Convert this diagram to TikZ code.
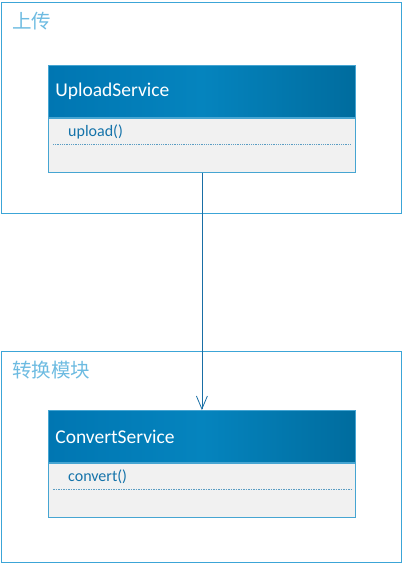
\documentclass[tikz,border=0pt]{standalone}
\usepackage{fontspec}
\setmainfont{Carlito}
\newfontfamily\cjk{Noto Sans CJK SC}
\usepackage{tikz}
\usetikzlibrary{positioning,arrows.meta,calc}
\usepackage{xcolor}
\definecolor{pkgline}{RGB}{60,165,215}
\definecolor{hdleft}{RGB}{0,118,178}
\definecolor{hdmid}{RGB}{5,132,190}
\definecolor{hdright}{RGB}{0,108,158}
\definecolor{boxline}{RGB}{70,165,210}
\definecolor{bodyfill}{RGB}{241,241,241}
\definecolor{optext}{RGB}{20,115,170}
\definecolor{depline}{RGB}{25,110,165}

\begin{document}
\begin{tikzpicture}[
  x=1pt, y=-1pt,
  pkg/.style={draw=pkgline, line width=1.4pt, minimum width=400pt, minimum height=211pt, inner sep=0pt, anchor=north west},
  pkglabel/.style={font=\fontsize{19.5}{19.5}\selectfont\cjk, text=pkgline!75, anchor=north west, inner sep=0pt},
  head/.style={draw=boxline, line width=0.8pt, left color=hdleft, right color=hdright, middle color=hdmid,
    minimum width=307pt, minimum height=52pt, text width=293pt, inner xsep=7pt, align=left,
    font=\fontsize{19.5}{19.5}\selectfont, text=white, anchor=north west},
  body/.style={draw=boxline, line width=0.8pt, fill=bodyfill, minimum width=307pt, minimum height=54pt, inner sep=0pt},
  oper/.style={font=\fontsize{16}{16}\selectfont, text=optext, anchor=west, inner sep=0pt},
  sep/.style={draw=optext!70, densely dotted, line width=0.8pt},
  dep/.style={-{Straight Barb[length=13pt, width=11pt]}, depline, line width=0.8pt}
]
\useasboundingbox (0,0) rectangle (403,564);
% ---- packages ----
\node[pkg] (p1) at (1,2) {};
\node[pkg] (p2) at (1,351) {};
\node[pkglabel] (l1) at ($(p1.north west)+(11,10)$) {上传};
\node[pkglabel] (l2) at ($(p2.north west)+(11,10)$) {转换模块};
% ---- UploadService ----
\node[head] (h1) at (48,65) {UploadService};
\node[body, below=0pt of h1] (b1) {};
\node[oper] (o1) at ($(b1.north west)+(20,14)$) {upload()};
\draw[sep] ($(b1.north west)+(5,27)$) -- ($(b1.north east)+(-5,27)$);
% ---- ConvertService ----
\node[head] (h2) at (48,410) {ConvertService};
\node[body, below=0pt of h2] (b2) {};
\node[oper] (o2) at ($(b2.north west)+(20,14)$) {convert()};
\draw[sep, dashed, dash pattern=on 1.5pt off 1pt] ($(b2.north west)+(5,27)$) -- ($(b2.north east)+(-5,27)$);
% ---- dependency ----
\draw[dep] (b1.south) -- (h2.north);
\end{tikzpicture}
\end{document}
